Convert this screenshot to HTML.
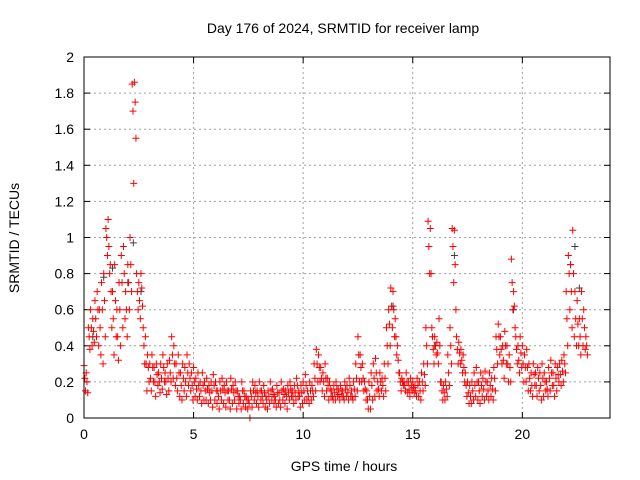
<!DOCTYPE html>
<html><head><meta charset="utf-8"><style>
body{margin:0;background:#fff}
svg{display:block;font-family:"Liberation Sans",sans-serif}
</style></head><body>
<svg id="chart" width="640" height="480"></svg>
<script>
// Data (time in hours = index*0.1 starting at 0)
const tStart = 0, tStep = 0.1;
const hiVals = [.29,.25,.5,.6,.55,.65,.7,.6,.75,.8,1.05,1.1,.85,.7,.85,.6,.75,.9,.95,.7,.85,1.0,1.85,1.86,.8,.75,.8,.5,.45,.35,
.3,.35,.28,.3,.25,.3,.35,.25,.3,.32,.45,.4,.3,.35,.25,.3,.28,.35,.3,.25,
.28,.22,.25,.2,.25,.2,.22,.18,.2,.24,.2,.15,.2,.22,.18,.2,.15,.22,.18,.2,
.15,.12,.2,.15,.12,.1,.15,.2,.18,.15,.2,.15,.18,.12,.15,.2,.16,.12,.18,.14,
.2,.16,.15,.18,.2,.15,.18,.22,.15,.18,.2,.24,.15,.2,.18,.3,.38,.35,.28,.25,
.3,.22,.2,.15,.18,.2,.16,.18,.15,.2,.18,.22,.15,.2,.3,.45,.35,.3,.2,.15,
.2,.25,.3,.33,.2,.25,.22,.3,.5,.6,.72,.7,.55,.4,.25,.22,.2,.25,.2,.22,
.2,.18,.22,.2,.25,.3,.5,1.09,1.05,.45,.45,.42,.55,.2,.18,.2,.35,.5,1.05,1.04,
.45,.42,.38,.35,.25,.2,.18,.2,.25,.28,.2,.25,.22,.26,.2,.25,.22,.28,.45,.52,
.45,.4,.48,.4,.35,.88,.7,.45,.4,.45,.4,.35,.38,.3,.25,.3,.25,.28,.25,.3,
.25,.2,.28,.32,.25,.3,.28,.3,.32,.35,.7,.9,.85,1.04,.7,.65,.55,.7,.6,.45];
const midVals = [.22,.2,.45,.5,.48,.55,.6,.5,.6,.65,1.0,.95,.7,.55,.65,.45,.6,.75,.8,.6,.75,.85,1.7,1.75,.7,.65,.72,.4,.3,.28,
.22,.28,.2,.24,.2,.22,.28,.2,.22,.25,.35,.3,.22,.25,.18,.22,.2,.25,.22,.18,
.2,.16,.18,.15,.18,.15,.16,.14,.15,.18,.15,.12,.15,.16,.14,.15,.1,.16,.14,.15,
.12,.1,.15,.12,.1,.08,.12,.15,.14,.12,.15,.12,.14,.1,.12,.15,.13,.1,.14,.1,
.15,.13,.12,.14,.16,.12,.14,.18,.12,.14,.15,.18,.12,.15,.15,.22,.3,.28,.22,.2,
.22,.18,.16,.12,.14,.16,.13,.15,.12,.16,.14,.18,.12,.16,.22,.35,.28,.22,.16,.1,
.12,.18,.22,.25,.16,.2,.18,.22,.4,.52,.62,.6,.45,.32,.2,.2,.18,.2,.16,.18,
.17,.15,.18,.15,.2,.24,.4,.95,.8,.38,.4,.36,.4,.15,.14,.16,.25,.4,.95,.85,
.38,.36,.32,.28,.18,.14,.12,.15,.18,.2,.15,.18,.16,.2,.15,.18,.16,.22,.38,.45,
.38,.32,.4,.3,.28,.75,.62,.38,.32,.36,.3,.28,.28,.22,.18,.24,.18,.22,.18,.22,
.2,.16,.22,.25,.18,.22,.24,.24,.26,.3,.55,.8,.7,.8,.55,.52,.45,.55,.5,.4];
const loVals = [.15,.14,.38,.4,.42,.45,.4,.35,.3,.45,.9,.8,.5,.35,.45,.32,.4,.5,.55,.45,.6,.7,1.3,1.55,.6,.55,.62,.3,.15,.2,
.15,.2,.12,.18,.14,.16,.2,.13,.15,.2,.22,.18,.15,.12,.1,.15,.12,.18,.15,.1,
.12,.1,.12,.08,.1,.1,.08,.1,.06,.1,.08,.05,.1,.08,.06,.1,.05,.08,.1,.05,
.08,.05,.08,.06,.05,0,.06,.1,.08,.06,.1,.08,.06,.05,.08,.1,.08,.06,.08,.06,
.1,.08,.05,.1,.12,.08,.1,.12,.06,.08,.1,.1,.08,.1,.12,.15,.2,.2,.15,.12,
.15,.1,.12,.1,.1,.12,.1,.12,.1,.12,.1,.12,.1,.12,.15,.2,.2,.15,.1,.05,
.05,.1,.12,.15,.12,.15,.12,.15,.3,.4,.5,.45,.35,.25,.15,.18,.15,.14,.12,.15,
.14,.12,.12,.1,.15,.18,.3,.8,.5,.3,.35,.3,.2,.1,.1,.12,.18,.3,.75,.6,
.3,.3,.25,.2,.12,.08,.08,.1,.12,.1,.08,.12,.1,.12,.1,.12,.1,.15,.3,.35,
.3,.22,.3,.2,.2,.6,.5,.3,.25,.28,.2,.2,.15,.15,.12,.18,.12,.15,.1,.12,
.15,.12,.15,.18,.12,.15,.2,.18,.2,.25,.4,.6,.5,.45,.4,.4,.35,.4,.38,.35];
const grayT = [0.4,0.9,1.3,2.0,2.25,2.6,14.1,16.0,16.9,19.6,22.2,22.4,22.6];
const grayV = [0.45,0.78,0.83,0.75,0.97,0.7,0.62,0.4,0.9,0.6,0.85,0.95,0.72];
const xTicks = [0,5,10,15,20];
const yTicks = [0,0.2,0.4,0.6,0.8,1,1.2,1.4,1.6,1.8,2];
const yTickLabels = ["0","0.2","0.4","0.6","0.8","1","1.2","1.4","1.6","1.8","2"];

const L=84,R=610,T=57,B=418,XMAX=24,YMAX=2;
const xs=v=>L+(v/XMAX)*(R-L), ys=v=>B-(v/YMAX)*(B-T);
const svg=document.getElementById('chart');
const NS='http://www.w3.org/2000/svg';
function mk(tag,attrs,parent){const e=document.createElementNS(NS,tag);for(const k in attrs)e.setAttribute(k,attrs[k]);(parent||svg).appendChild(e);return e;}

const grid=mk('g',{});


xTicks.forEach(t=>{if(t>0)mk('line',{x1:xs(t),x2:xs(t),y1:T,y2:B,stroke:'#a0a0a0','stroke-dasharray':'2,3'},grid);});
yTicks.forEach(t=>{if(t>0&&t<YMAX)mk('line',{x1:L,x2:R,y1:ys(t),y2:ys(t),stroke:'#a0a0a0','stroke-dasharray':'2,3'},grid);});

const ax=mk('g',{'font-size':'14',fill:'#000'});


xTicks.forEach(t=>{const x=xs(t);mk('line',{x1:x,x2:x,y1:B,y2:B-6,stroke:'#000'},ax);mk('line',{x1:x,x2:x,y1:T,y2:T+6,stroke:'#000'},ax);
 const tx=mk('text',{x:x,y:B+21,'text-anchor':'middle'},ax);tx.textContent=t;
 
 });
yTicks.forEach((t,i)=>{const y=ys(t);mk('line',{x1:L,x2:L+6,y1:y,y2:y,stroke:'#000'},ax);mk('line',{x1:R,x2:R-6,y1:y,y2:y,stroke:'#000'},ax);
 const tx=mk('text',{x:L-10,y:y+5,'text-anchor':'end'},ax);tx.textContent=yTickLabels[i];
 
 });

function plus(g,x,y,c){mk('path',{d:`M${x-3.5},${y}h7M${x},${y-3.5}v7`,stroke:c,'stroke-width':1,fill:'none'},g);}
const gs=mk('g',{});


grayT.forEach((t,i)=>plus(gs,xs(t),ys(grayV[i]),'#404040'));
const rs=mk('g',{});


hiVals.forEach((v,i)=>plus(rs,xs(tStart+i*tStep),ys(v),'#ff0000'));
midVals.forEach((v,i)=>plus(rs,xs(tStart+i*tStep+0.035),ys(v),'#ff0000'));
loVals.forEach((v,i)=>plus(rs,xs(tStart+i*tStep+0.07),ys(v),'#ff0000'));

const fr=mk('rect',{x:L,y:T,width:R-L,height:B-T,fill:'none',stroke:'#000'});



const ti=mk('text',{x:343,y:33,'text-anchor':'middle','font-size':'14'});ti.textContent='Day 176 of 2024, SRMTID for receiver lamp';


const xl=mk('text',{x:344,y:471,'text-anchor':'middle','font-size':'14'});xl.textContent='GPS time / hours';


const yl=mk('text',{x:19,y:238,'text-anchor':'middle','font-size':'14',transform:'rotate(-90 19 238)'});yl.textContent='SRMTID / TECUs';


</script>
</body></html>
